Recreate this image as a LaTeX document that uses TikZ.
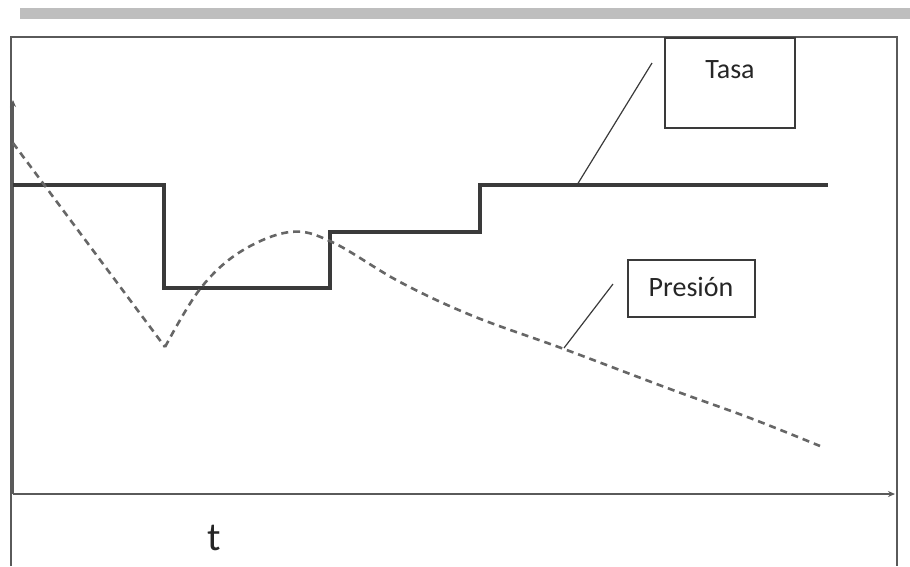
\documentclass[tikz,border=0pt]{standalone}
\usepackage{fontspec}
\setmainfont{Carlito}
\usetikzlibrary{arrows.meta}
\definecolor{framegray}{HTML}{5A5A5A}
\definecolor{ratedark}{HTML}{3A3A3A}
\definecolor{pressgray}{HTML}{666666}
\definecolor{bargray}{HTML}{BEBEBE}
\tikzset{
  frameline/.style={draw=framegray, line width=1.8pt},
  axisline/.style={draw=framegray, line width=2.4pt, -{Stealth[length=7pt,width=6pt]}},
  rateline/.style={draw=ratedark, line width=3.4pt, line join=miter},
  pressline/.style={draw=pressgray, line width=2.6pt, dash pattern=on 7pt off 5pt},
  leader/.style={draw=ratedark, line width=1.2pt},
  labelbox/.style={draw=ratedark, line width=1.8pt, inner sep=0pt},
  labeltext/.style={font=\fontsize{28}{30}\selectfont, text=black!85, inner sep=0pt},
}
\begin{document}
\begin{tikzpicture}[x=1pt,y=-1pt]
  \useasboundingbox (0,0) rectangle (910,566);
  % grey banner across the top
  \fill[bargray] (20,8) rectangle (910,19);
  % outer frame
  \draw[frameline] (11,566) -- (11,37) -- (897,37) -- (897,566);
  % axes
  \coordinate (origin) at (13,494);
  \coordinate (ytip) at (13,100);
  \coordinate (xtip) at (895,494);
  \draw[axisline] (origin) -- (ytip);
  \draw[axisline] (origin) -- (xtip);
  \node[labeltext, font=\fontsize{40}{42}\selectfont] (tlabel) at (214,538) {t};
  % rate: step function
  \draw[rateline] (13,185) -- (164,185) -- (164,288) -- (330,288) -- (330,232)
    -- (480,232) -- (480,185) -- (828,185);
  % pressure response
  \draw[pressline] (13,143) -- (165,347);
  \draw[pressline] plot[smooth, tension=0.6] coordinates {
    (165,347) (200,289) (240,252) (290,232) (332,242) (400,282) (473,316)
    (564,349) (670,389) (750,418) (820,446)};
  % legend boxes
  \node[labelbox, minimum width=130pt, minimum height=90pt] (tasabox) at (730,83) {};
  \node[labeltext] (tasa) at (730,70) {Tasa};
  \node[labelbox, minimum width=127pt, minimum height=57pt] (presbox) at (691.5,288.5) {};
  \node[labeltext] (pres) at (691,287) {Presión};
  % leader lines
  \coordinate (tasalead) at (652,63);
  \coordinate (tasaon) at (577,185);
  \coordinate (preslead) at (613,284);
  \coordinate (preson) at (564,348);
  \draw[leader] (tasalead) -- (tasaon);
  \draw[leader] (preslead) -- (preson);
\end{tikzpicture}
\end{document}
